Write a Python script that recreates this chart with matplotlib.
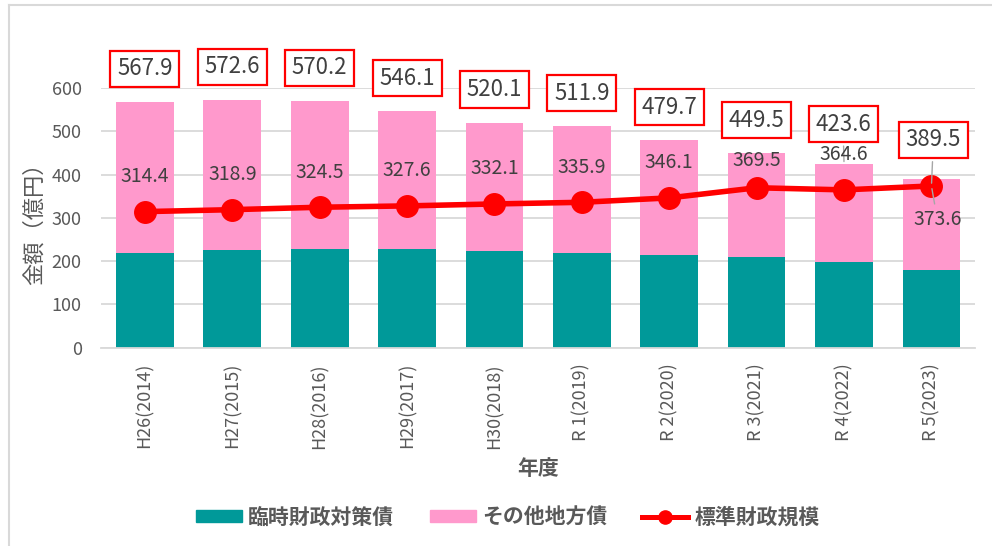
import matplotlib
matplotlib.use("Agg")
import matplotlib.pyplot as plt
from matplotlib.lines import Line2D
from matplotlib.patches import Patch

plt.rcParams['font.family'] = ['Noto Sans CJK JP', 'DejaVu Sans']

years = ['H26(2014)', 'H27(2015)', 'H28(2016)', 'H29(2017)', 'H30(2018)',
         'R 1(2019)', 'R 2(2020)', 'R 3(2021)', 'R 4(2022)', 'R 5(2023)']
rinji = [219, 225, 227, 227, 224, 219, 214, 210, 197, 180]
total = [567.9, 572.6, 570.2, 546.1, 520.1, 511.9, 479.7, 449.5, 423.6, 389.5]
hyojun = [314.4, 318.9, 324.5, 327.6, 332.1, 335.9, 346.1, 369.5, 364.6, 373.6]
sonota = [t - r for t, r in zip(total, rinji)]

teal = '#009999'
pink = '#FF99CC'
red = '#FF0000'
gray = '#595959'
txt = '#404040'

fig = plt.figure(figsize=(9.92, 5.46), dpi=100)
ax = fig.add_axes([0.102, 0.363, 0.881, 0.476])

x = range(len(years))
ax.bar(x, rinji, width=0.66, color=teal, zorder=2)
ax.bar(x, sonota, width=0.66, bottom=rinji, color=pink, zorder=2)
ax.plot(x, hyojun, color=red, lw=4, marker='o', ms=15.5, zorder=4)

ax.set_xlim(-0.5, len(years) - 0.5)
ax.set_ylim(0, 600)
ax.set_yticks(range(0, 601, 100))
ax.grid(axis='y', color='#d9d9d9', lw=1.3, zorder=0)
for s in ['top', 'right', 'left']:
    ax.spines[s].set_visible(False)
ax.spines['bottom'].set_color('#d9d9d9')
ax.spines['bottom'].set_linewidth(1.3)
ax.tick_params(axis='both', length=0, colors=gray, labelsize=13)
ax.tick_params(axis='y', pad=14)
ax.tick_params(axis='x', pad=11)
ax.set_xticks(list(x))
ax.set_xticklabels(years, rotation=90)
ax.set_ylabel('金額（億円）', color=gray, fontsize=16, labelpad=4)
ax.set_xlabel('年度', color=gray, fontsize=15, fontweight='bold', labelpad=7)

box = dict(boxstyle='square,pad=0.3', fc='white', ec=red, lw=1.6)

# total labels in red boxes
for i, t in enumerate(total):
    if i < 8:
        ax.annotate(f'{t:.1f}', xy=(i, t), xytext=(0, 33), textcoords='offset pixels',
                    ha='center', va='center', fontsize=16, color=txt, bbox=box,
                    annotation_clip=False, zorder=6)
    elif i == 8:
        ax.annotate(f'{t:.1f}', xy=(i, t), xytext=(-1, 40), textcoords='offset pixels',
                    ha='center', va='center', fontsize=16, color=txt, bbox=box,
                    arrowprops=dict(arrowstyle='-', color='#a6a6a6', lw=1),
                    annotation_clip=False, zorder=6)
    else:
        ax.annotate(f'{t:.1f}', xy=(i, hyojun[i]), xytext=(2, 46), textcoords='offset pixels',
                    ha='center', va='center', fontsize=16, color=txt, bbox=box,
                    arrowprops=dict(arrowstyle='-', color='#a6a6a6', lw=1),
                    annotation_clip=False, zorder=6)

# standard scale labels
for i, h in enumerate(hyojun):
    if i == 9:
        ax.annotate(f'{h:.1f}', xy=(i, h), xytext=(6, -34), textcoords='offset pixels',
                    ha='center', va='center', fontsize=14, color=txt,
                    arrowprops=dict(arrowstyle='-', color='#a6a6a6', lw=1), zorder=6)
    else:
        dy = 27 if i == 7 else 35
        ax.annotate(f'{h:.1f}', xy=(i, h), xytext=(0, dy), textcoords='offset pixels',
                    ha='center', va='center', fontsize=14, color=txt, zorder=6)

handles = [Patch(color=teal), Patch(color=pink),
           Line2D([], [], color=red, lw=3.6, marker='o', ms=9.5)]
labels = ['臨時財政対策債', 'その他地方債', '標準財政規模']
leg = fig.legend(handles, labels, loc='center', bbox_to_anchor=(0.512, 0.053), ncol=3,
                 frameon=False, handlelength=2.2, handleheight=0.55, columnspacing=1.7,
                 handletextpad=0.3, prop={'size': 15, 'weight': 'bold'})
for t in leg.get_texts():
    t.set_color(gray)

# chart frame
fig.add_artist(Line2D([0.009, 0.009], [0, 0.991], color='#d9d9d9', lw=1.5))
fig.add_artist(Line2D([0.009, 1.0], [0.991, 0.991], color='#d9d9d9', lw=1.5))

fig.savefig('out.png', dpi=100)
